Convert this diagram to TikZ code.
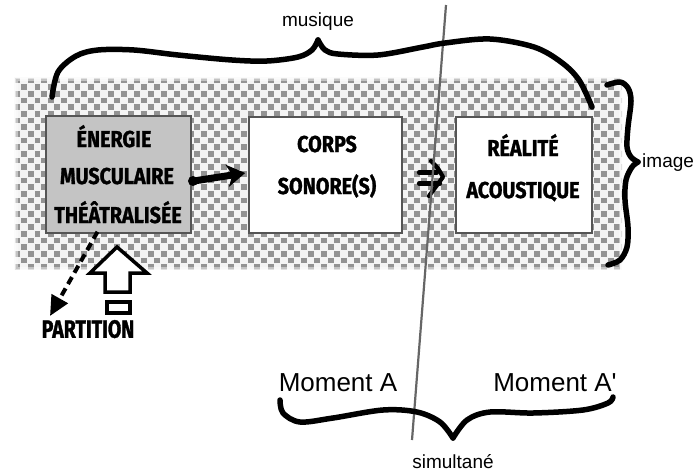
\documentclass[tikz,border=0pt]{standalone}
\usepackage{fontspec}
\setmainfont{Liberation Sans}
\newfontfamily\arial{Liberation Sans}
\newfontfamily\comic[FakeStretch=0.86,FakeBold=1.2]{Fira Sans}
\newfontfamily\comicnarrow[FakeStretch=0.78,FakeBold=1.2]{Fira Sans}
\usetikzlibrary{arrows.meta}
\definecolor{chkdark}{HTML}{939393}
\definecolor{chklight}{HTML}{F4F4F4}
\definecolor{boxline}{HTML}{555555}
\definecolor{boxgray}{HTML}{C4C4C4}
\definecolor{axisgray}{HTML}{666666}
\tikzset{
  box/.style={draw=boxline, line width=1.6pt, fill=white, inner sep=0pt},
  comictxt/.style={font=\comic\bfseries\fontsize{23}{23}\selectfont, inner sep=0pt, text height=16pt, text depth=0pt},
  plain/.style={font=\arial\fontsize{19}{19}\selectfont, inner sep=0pt},
  big/.style={font=\arial\fontsize{26}{26}\selectfont, inner sep=0pt},
  bracepen/.style={line width=5.5pt, line cap=round, line join=round},
}
\begin{document}
\begin{tikzpicture}[x=1pt,y=-1pt]
\useasboundingbox (0,0) rectangle (698,472);
\fill[white] (0,0) rectangle (698,472);

% checkered background
\fill[chklight] (14,77) rectangle (622,270);
\begin{scope}
\clip (14,77) rectangle (622,270);
\foreach \j in {0,...,28} {
  \pgfmathsetmacro\off{mod(\j,2)*6.667}
  \foreach \i in {0,...,45} {
    \fill[chkdark] ({14+\off+\i*13.333+0.5},{77+\j*6.667+0.5}) rectangle ++(5.7,5.7);
  }
}
\end{scope}
\draw[white, opacity=0.45, line width=7pt] (14,77) rectangle (622,270);
\draw[white, opacity=0.5, line width=3pt] (14,77) rectangle (622,270);

% boxes
\node[box, fill=boxgray, minimum width=145pt, minimum height=117pt] (b1) at (118.5,174.5) {};
\node[box, minimum width=153pt, minimum height=116pt] (b2) at (325.5,175) {};
\node[box, minimum width=136pt, minimum height=116pt] (b3) at (524,175) {};

\node[comictxt] (t1a) at (114,139) {ÉNERGIE};
\node[comictxt] (t1b) at (117,176) {MUSCULAIRE};
\node[comictxt] (t1c) at (118,215) {THÉÂTRALISÉE};
\node[comictxt] (t2a) at (327,144) {CORPS};
\node[comictxt] (t2b) at (327,186) {SONORE(S)};
\node[comictxt] (t3a) at (523,148) {RÉALITÉ};
\node[comictxt] (t3b) at (523,190) {ACOUSTIQUE};

% thick arrow box1 -> box2
\fill (193,181) circle (5pt);
\draw[line width=7pt, -{Stealth[length=18pt,width=22pt,inset=5pt]}] ([yshift=-6.5pt,xshift=2pt]b1.east) -- ([yshift=2pt,xshift=-3pt]b2.west);

% double arrow
\coordinate (dA) at (419,172.5);
\coordinate (dB) at (437,172.5);
\coordinate (dC) at (419,183.5);
\coordinate (dD) at (440,183.5);
\coordinate (dE) at (431,161);
\coordinate (dF) at (443,177);
\coordinate (dG) at (429,196);
\draw[line width=4.2pt, line cap=round] (dA) -- (dB) (dC) -- (dD);
\draw[line width=4.2pt, line cap=round, line join=round] (dE) .. controls (438,168) .. (dF) .. controls (436,186) .. (dG);

% vertical line
\coordinate (vtop) at (446,5);
\coordinate (vbot) at (412,440);
\draw[axisgray, line width=2.2pt] (vtop) -- (vbot);

% musique brace
\draw[bracepen] plot[smooth, tension=0.55] coordinates {(52,97) (58,72) (76,56) (98,50) (134,50) (178,55) (232,60) (267,61) (298,57) (312,50) (318,40)};
\draw[bracepen] plot[smooth, tension=0.55] coordinates {(318,40) (325,50) (338,54) (378,55) (423,47) (445,43) (490,39) (534,47) (561,62) (579,80) (592,107)};
\node[plain] (mus) at (318,22) {musique};

% image brace
\draw[bracepen] plot[smooth, tension=0.55] coordinates {(607,85) (620,82) (628,88) (631,101) (628,127) (627,147) (631,157) (638,162)};
\draw[bracepen] plot[smooth, tension=0.55] coordinates {(638,162) (632,167) (626,180) (625,200) (628,227) (627,247) (620,260) (608,265)};
\node[plain, anchor=west] (img) at (642,163) {image};

% moment brace
\draw[bracepen] plot[smooth, tension=0.55] coordinates {(280,400) (283,413) (300,422) (333,418) (383,410) (417,412) (440,422) (453,438)};
\draw[bracepen] plot[smooth, tension=0.55] coordinates {(453,438) (467,420) (490,412) (533,413) (583,410) (608,403) (613,397)};
\node[big] (ma) at (338,383) {Moment A};
\node[big] (mb) at (555,383) {Moment A'};
\node[plain] (sim) at (453,462) {simultané};

% partition
\node[comictxt, font=\comicnarrow\bfseries\fontsize{25}{25}\selectfont, text height=17.5pt] (part) at (88,329) {PARTITION};
\coordinate (dtip) at (50,316);
\draw[line width=4pt, dash pattern=on 8pt off 5pt, -{Triangle[length=20pt,width=18pt]}] ([xshift=-21pt,yshift=2pt]b1.south) -- (dtip);

% hollow up arrow
\draw[line width=3.5pt, fill=white, line join=miter] (117,247) -- (147,273) -- (130,273) -- (130,292) -- (105,292) -- (105,273) -- (90,273) -- cycle;
\draw[line width=3.5pt] (107,302) rectangle (130,313);
\end{tikzpicture}
\end{document}
